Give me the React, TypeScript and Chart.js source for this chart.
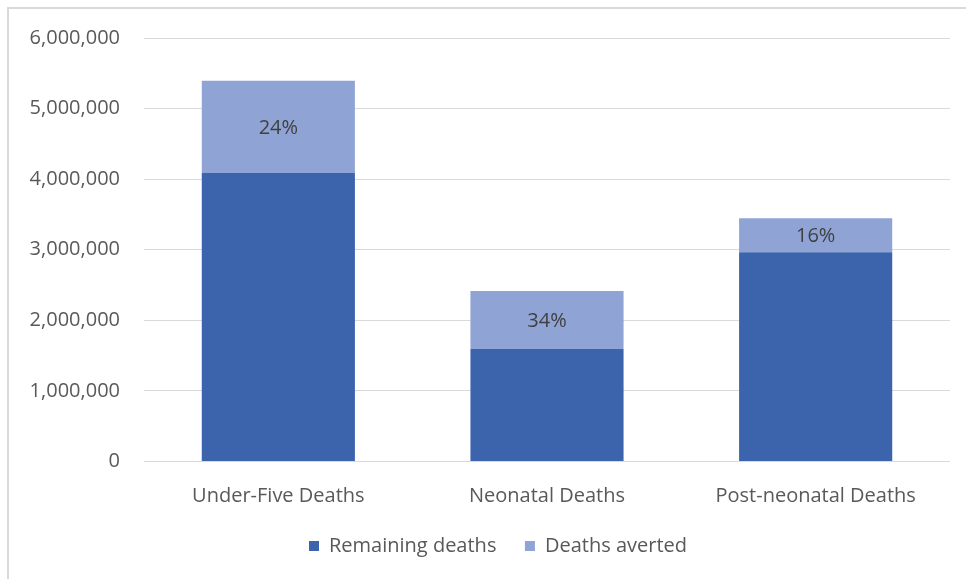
import React, { useEffect, useRef } from "react";
import { Chart, registerables } from "chart.js";

Chart.register(...registerables);

const categories = ["Under-Five Deaths", "Neonatal Deaths", "Post-neonatal Deaths"];
const remainingDeaths = [4086000, 1595000, 2966000];
const deathsAverted = [1309000, 822000, 482000];
const avertedLabels = ["24%", "34%", "16%"];
const seriesNames = ["Remaining deaths", "Deaths averted"];
const yMax = 6000000;
const yStep = 1000000;

const FONT = "'Open Sans', 'Liberation Sans', sans-serif";

export default function App() {
  const ref = useRef<HTMLCanvasElement | null>(null);

  useEffect(() => {
    document.body.style.margin = "0";
    const canvas = ref.current;
    if (!canvas) return;

    const framePlugin = {
      id: "frame",
      beforeDraw(chart: any) {
        const ctx = chart.ctx;
        ctx.save();
        ctx.fillStyle = "#ffffff";
        ctx.fillRect(0, 0, chart.width, chart.height);
        ctx.strokeStyle = "#d9d9d9";
        ctx.lineWidth = 2;
        ctx.beginPath();
        ctx.moveTo(8, chart.height);
        ctx.lineTo(8, 8);
        ctx.lineTo(chart.width, 8);
        ctx.stroke();
        ctx.restore();
      },
    };

    const legendShift = {
      id: "legendShift",
      afterLayout(chart: any) {
        const lg = chart.legend;
        if (lg) {
          lg.left += 26;
        }
      },
    };

    const labelPlugin = {
      id: "segLabels",
      afterDatasetsDraw(chart: any) {
        const ctx = chart.ctx;
        const meta = chart.getDatasetMeta(1);
        ctx.save();
        ctx.font = `20px ${FONT}`;
        ctx.fillStyle = "#404040";
        ctx.textAlign = "center";
        ctx.textBaseline = "middle";
        meta.data.forEach((el: any, i: number) => {
          const y = (el.y + el.base) / 2;
          ctx.fillText(avertedLabels[i], el.x, y + 1);
        });
        ctx.restore();
      },
    };

    const chart = new Chart(canvas, {
      type: "bar",
      data: {
        labels: categories,
        datasets: [
          {
            label: seriesNames[0],
            data: remainingDeaths,
            backgroundColor: "#3b64ac",
            borderWidth: 0,
          },
          {
            label: seriesNames[1],
            data: deathsAverted,
            backgroundColor: "#8fa4d4",
            borderWidth: 0,
          },
        ],
      },
      options: {
        animation: false,
        responsive: false,
        maintainAspectRatio: false,
        layout: { padding: { left: 20, right: 16, top: 38, bottom: 13 } },
        datasets: {
          bar: { categoryPercentage: 1, barPercentage: 0.57 },
        },
        plugins: {
          legend: {
            position: "bottom",
            labels: {
              boxWidth: 10,
              boxHeight: 10,
              padding: 28.5,
              color: "#595959",
              font: { family: FONT, size: 20 },
            },
          },
          tooltip: { enabled: false },
        },
        scales: {
          x: {
            stacked: true,
            grid: { display: false },
            border: { display: false },
            ticks: {
              color: "#595959",
              font: { family: FONT, size: 20, lineHeight: 1 },
              padding: 17,
              maxRotation: 0,
            },
            afterFit(scale: any) {
              scale.height = 46;
            },
          },
          y: {
            stacked: true,
            min: 0,
            max: yMax,
            grid: { color: "#d9d9d9", lineWidth: 1, drawTicks: false },
            border: { display: false },
            ticks: {
              stepSize: yStep,
              color: "#595959",
              font: { family: FONT, size: 20 },
              padding: 24,
              callback: (v: any) => Number(v).toLocaleString("en-US"),
            },
            afterFit(scale: any) {
              scale.width = 124;
            },
          },
        },
      },
      plugins: [framePlugin, legendShift, labelPlugin],
    });

    return () => chart.destroy();
  }, []);

  return (
    <canvas
      ref={ref}
      width={966}
      height={579}
      style={{ display: "block", width: 966, height: 579 }}
    />
  );
}
